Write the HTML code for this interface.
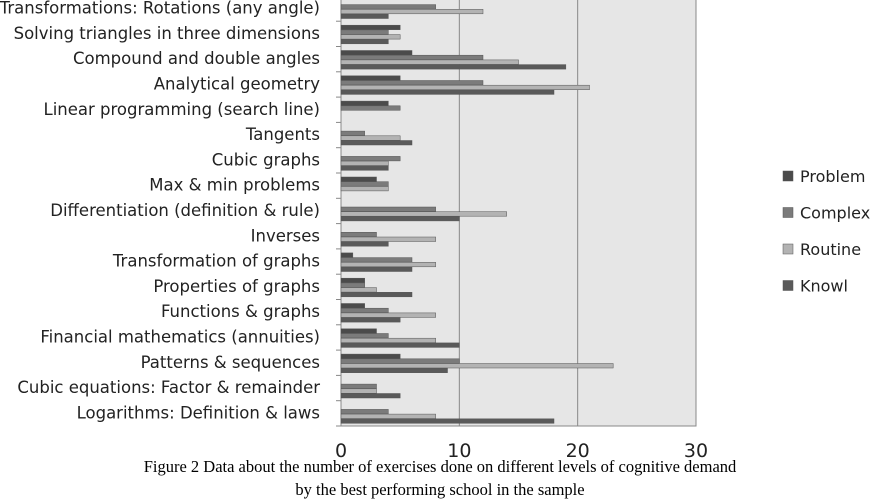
<!DOCTYPE html>
<html><head><meta charset="utf-8"><style>
body{margin:0;background:#fff;width:875px;height:504px;overflow:hidden;}
svg{display:block}
text{font-family:"DejaVu Sans","Liberation Sans",sans-serif;}
</style></head><body>
<svg width="875" height="504">
<g id="plot"></g>
<g id="labels"></g>
<g id="legend"></g>
<text x="440" y="472" text-anchor="middle" font-size="16.5" style="font-family:'Liberation Serif',serif">Figure 2  Data about the number of exercises done on different levels of cognitive demand</text>
<text x="440" y="495" text-anchor="middle" font-size="16.5" style="font-family:'Liberation Serif',serif">by the best performing school in the sample</text>
</svg>
<script>
const categories=["Transformations: Rotations (any angle)","Solving triangles in three dimensions","Compound and double angles","Analytical geometry","Linear programming (search line)","Tangents","Cubic graphs","Max & min problems","Differentiation (definition & rule)","Inverses","Transformation of graphs","Properties of graphs","Functions & graphs","Financial mathematics (annuities)","Patterns & sequences","Cubic equations: Factor & remainder","Logarithms: Definition & laws"];
const problem=[0,5,6,5,4,0,0,3,0,0,1,2,2,3,5,0,0];
const complex=[8,4,12,12,5,2,5,4,8,3,6,2,4,4,10,3,4];
const routine=[12,5,15,21,0,5,4,4,14,8,8,3,8,8,23,3,8];
const knowl=[4,4,19,18,0,6,4,0,10,4,6,6,5,10,9,5,18];
const seriesNames=["Problem","Complex","Routine","Knowl"];
const ticks=[0,10,20,30];
const NS="http://www.w3.org/2000/svg";
const x0=341,x1=696,xmax=30,bottom=426,band=25.3;
const plotTop=bottom-band*categories.length;
const X=v=>x0+(x1-x0)*v/xmax;
const Y=i=>plotTop+i*band;
const colors=["#4b4b4b","#7b7b7b","#b3b3b3","#5a5a5a"];
const plotG=document.getElementById('plot');
function mk(t,a,p){const e=document.createElementNS(NS,t);for(const k in a)e.setAttribute(k,a[k]);(p||plotG).appendChild(e);return e;}
let bg=mk('rect',{x:x0,y:plotTop,width:x1-x0,height:bottom-plotTop,fill:'#e6e6e6',stroke:'#888'});


ticks.forEach(t=>{
 if(t>0){let g=mk('line',{x1:X(t),x2:X(t),y1:plotTop,y2:bottom,stroke:'#888','stroke-width':1});
 
 }
 let tl=mk('text',{x:X(t),y:457,'text-anchor':'middle','font-size':19,fill:'#222'});
 tl.textContent=t;
 
 
});
let ax=mk('line',{x1:x0,x2:x0,y1:plotTop,y2:bottom,stroke:'#888'});


let bx=mk('line',{x1:x0,x2:x1,y1:bottom,y2:bottom,stroke:'#888'});


const series=[problem,complex,routine,knowl];
categories.forEach((c,i)=>{
 let tk=mk('line',{x1:x0-5,x2:x0,y1:Y(i+1),y2:Y(i+1),stroke:'#888'});
 
 
 series.forEach((s,j)=>{
  if(s[i]<=0)return;
  let r=mk('rect',{x:x0,y:Y(i)+4+j*4.7,width:X(s[i])-x0,height:4.5,fill:colors[j],stroke:'#555','stroke-width':0.5});
  
  
 });
 let t=mk('text',{x:320,y:Y(i)+band/2+5,'text-anchor':'end','font-size':16.5,fill:'#222'},document.getElementById('labels'));
 t.textContent=c;
 
 
});
const lg=document.getElementById('legend');
seriesNames.forEach((n,j)=>{
 const y=176+j*36.5;
 let r=mk('rect',{x:783,y:y-5,width:10,height:10,fill:colors[j],stroke:'#555','stroke-width':0.5},lg);
 
 
 let t=mk('text',{x:800,y:y+6,'font-size':16,fill:'#222'},lg);
 t.textContent=n;
 
 
});
</script>
</body></html>
